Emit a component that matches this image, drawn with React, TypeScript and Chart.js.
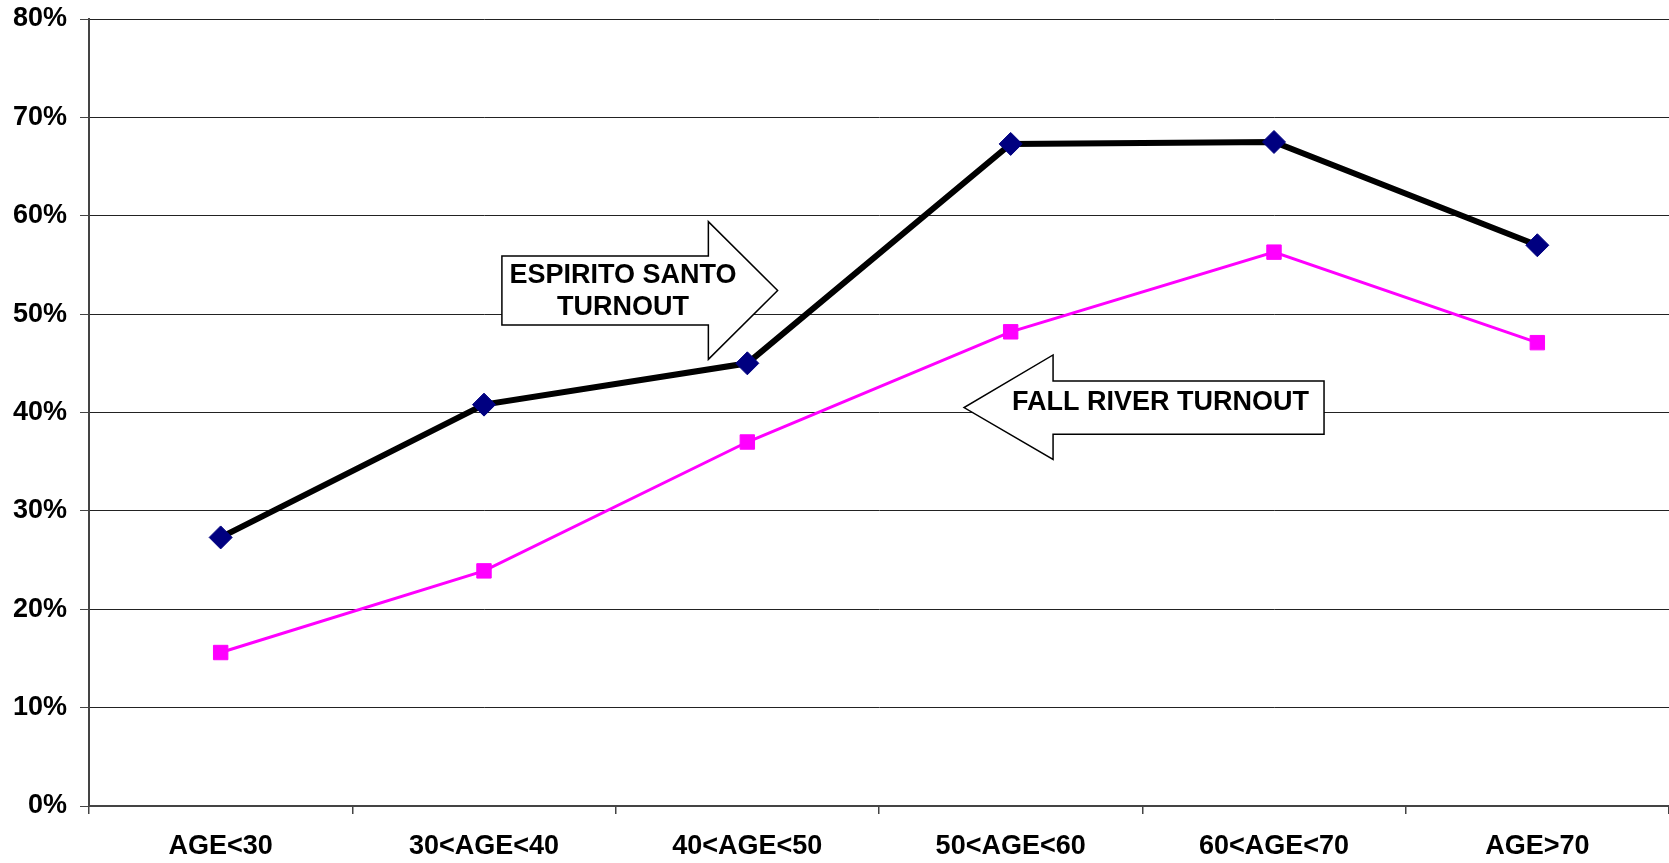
import React, { useEffect, useRef } from "react";
import { Chart, registerables } from "chart.js";

Chart.register(...registerables);

const categories = ["AGE<30", "30<AGE<40", "40<AGE<50", "50<AGE<60", "60<AGE<70", "AGE>70"];
const espiritoSanto = [27.3, 40.8, 45.0, 67.3, 67.5, 57.0];
const fallRiver = [15.6, 23.9, 37.0, 48.2, 56.3, 47.1];
const yTicks = [0, 10, 20, 30, 40, 50, 60, 70, 80];

// Arrow callouts, in data units (x = category index, y = percent)
const esArrowX = [1.068, 1.852, 2.115]; // body left, head base, tip
const esArrowY = [55.9, 48.9, 59.4, 45.4, 52.4]; // body top, body bottom, head top, head bottom, tip
const esLabel = ["ESPIRITO SANTO", "TURNOUT"];
const esLabelPos = [1.528, 53.9, 50.7];

const frArrowX = [4.19, 3.161, 2.823]; // body right, head base, tip
const frArrowY = [43.2, 37.8, 45.85, 35.24, 40.5];
const frLabel = ["FALL RIVER TURNOUT"];
const frLabelPos = [3.569, 41.05];

const FONT = "'Liberation Sans', Arial, sans-serif";

const arrowPlugin = {
  id: "arrows",
  beforeDatasetsDraw(chart: any) {
    const { ctx, scales } = chart;
    const xs = scales.x;
    const ys = scales.y;
    const px = (v: number) => xs.getPixelForValue(v);
    const py = (v: number) => ys.getPixelForValue(v);

    const drawArrow = (ax: number[], ay: number[]) => {
      const [bodyEnd, headBase, tip] = ax;
      const [bTop, bBot, hTop, hBot, tipY] = ay;
      ctx.save();
      ctx.beginPath();
      ctx.moveTo(px(bodyEnd), py(bTop));
      ctx.lineTo(px(headBase), py(bTop));
      ctx.lineTo(px(headBase), py(hTop));
      ctx.lineTo(px(tip), py(tipY));
      ctx.lineTo(px(headBase), py(hBot));
      ctx.lineTo(px(headBase), py(bBot));
      ctx.lineTo(px(bodyEnd), py(bBot));
      ctx.closePath();
      ctx.fillStyle = "#ffffff";
      ctx.fill();
      ctx.lineWidth = 1.5;
      ctx.strokeStyle = "#000000";
      ctx.lineJoin = "miter";
      ctx.stroke();
      ctx.restore();
    };

    const drawText = (lines: string[], x: number, yv: number[]) => {
      ctx.save();
      ctx.fillStyle = "#000000";
      ctx.font = `bold 27px ${FONT}`;
      ctx.textAlign = "center";
      ctx.textBaseline = "middle";
      lines.forEach((t, i) => ctx.fillText(t, px(x), py(yv[i])));
      ctx.restore();
    };

    drawArrow(esArrowX, esArrowY);
    drawText(esLabel, esLabelPos[0], esLabelPos.slice(1));
    drawArrow(frArrowX, frArrowY);
    drawText(frLabel, frLabelPos[0], frLabelPos.slice(1));
  },
};

export default function App() {
  const ref = useRef<HTMLCanvasElement | null>(null);

  useEffect(() => {
    if (!ref.current) return;
    const chart = new Chart(ref.current, {
      type: "line",
      data: {
        labels: categories,
        datasets: [
          {
            label: "Espirito Santo Turnout",
            data: espiritoSanto,
            borderColor: "#000000",
            borderWidth: 6,
            pointStyle: "rectRot",
            pointRadius: 11.5,
            pointBorderWidth: 1,
            pointBackgroundColor: "#000080",
            pointBorderColor: "#000080",
            tension: 0,
          },
          {
            label: "Fall River Turnout",
            data: fallRiver,
            borderColor: "#ff00ff",
            borderWidth: 3,
            pointStyle: "rect",
            pointRadius: 10.2,
            pointBorderWidth: 1,
            pointBackgroundColor: "#ff00ff",
            pointBorderColor: "#ff00ff",
            tension: 0,
          },
        ],
      },
      options: {
        responsive: false,
        animation: false,
        devicePixelRatio: 1,
        layout: { autoPadding: false, padding: { top: 19, right: 0, left: 0, bottom: 0 } },
        plugins: {
          legend: { display: false },
          tooltip: { enabled: false },
        },
        scales: {
          x: {
            type: "category",
            offset: true,
            grid: {
              offset: true,
              drawOnChartArea: false,
              drawTicks: true,
              tickLength: 8,
              tickColor: "#444",
              lineWidth: 1.5,
            },
            border: { display: true, color: "#444", width: 2 },
            ticks: {
              color: "#000",
              padding: 16,
              maxRotation: 0,
              font: { family: FONT, size: 27, weight: "bold" },
            },
            afterFit: (s: any) => {
              s.height = 57;
              s.paddingLeft = 0;
              s.paddingRight = 0;
            },
          },
          y: {
            min: 0,
            max: 80,
            afterBuildTicks: (s: any) => {
              s.ticks = yTicks.map((v) => ({ value: v }));
            },
            grid: {
              color: "#222",
              lineWidth: 1,
              drawTicks: true,
              tickLength: 9,
              tickColor: "#444",
            },
            border: { display: true, color: "#444", width: 2 },
            ticks: {
              color: "#000",
              padding: 13,
              font: { family: FONT, size: 27, weight: "bold" },
              callback: (v: any) => `${v}%`,
            },
            afterFit: (s: any) => {
              s.width = 89;
              s.paddingTop = 0;
              s.paddingBottom = 0;
            },
          },
        },
      },
      plugins: [arrowPlugin],
    });
    return () => chart.destroy();
  }, []);

  return (
    <div style={{ position: "fixed", left: 0, top: 0, width: 1669, height: 863, background: "#fff" }}>
      <canvas ref={ref} width={1669} height={863} style={{ display: "block" }} />
    </div>
  );
}
